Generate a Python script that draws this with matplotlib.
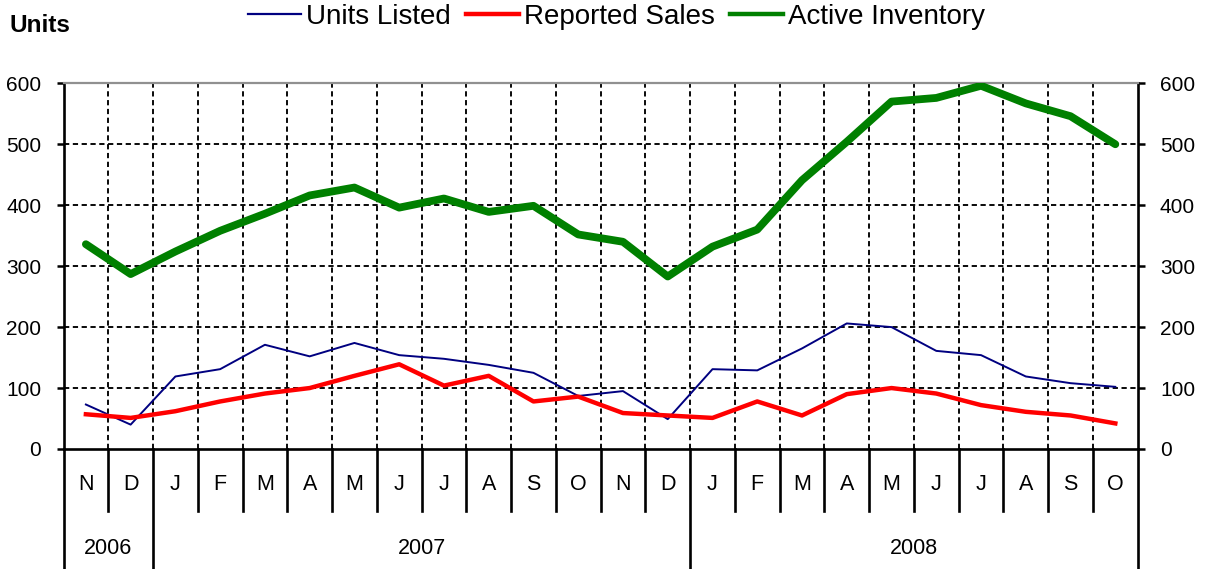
import matplotlib
matplotlib.use("Agg")
import matplotlib.pyplot as plt
from matplotlib.lines import Line2D
import matplotlib.transforms as mtrans
import numpy as np

plt.rcParams['font.family'] = ['Liberation Sans', 'DejaVu Sans']

months = ["N", "D", "J", "F", "M", "A", "M", "J", "J", "A", "S", "O",
          "N", "D", "J", "F", "M", "A", "M", "J", "J", "A", "S", "O"]
years = ["2006", "2007", "2008"]
year_spans = [(0, 2), (2, 14), (14, 24)]

units_listed = [73, 40, 119, 131, 171, 152, 174, 154, 148, 138, 125, 87,
                95, 49, 131, 129, 165, 206, 200, 161, 154, 119, 108, 102]
reported_sales = [57, 51, 62, 78, 91, 100, 120, 139, 104, 120, 78, 86,
                  59, 55, 51, 78, 55, 90, 100, 91, 72, 61, 55, 42]
active_inventory = [336, 287, 324, 358, 386, 416, 429, 396, 411, 389, 399, 352,
                    340, 283, 332, 360, 441, 504, 570, 576, 596, 567, 546, 500]

yticks = [0, 100, 200, 300, 400, 500, 600]

W, H = 1212, 569
fig = plt.figure(figsize=(W / 100, H / 100), dpi=100)
ax = fig.add_axes([63.5 / W, 1 - 449 / H, (1137.7 - 63.5) / W, (449 - 83.3) / H])

x = np.arange(len(months)) + 0.5
ax.set_xlim(0, len(months))
ax.set_ylim(0, 600)

# grid
dash = (0, (2.8, 1.9))
for v in yticks[1:-1]:
    ax.axhline(v, color='black', lw=1.35, linestyle=dash, zorder=1)
for b in range(1, len(months)):
    ax.axvline(b, color='black', lw=1.35, linestyle=dash, zorder=1)

ax.plot(x, units_listed, color='#000080', lw=1.4, zorder=3)
ax.plot(x, reported_sales, color='#FF0000', lw=3.2, zorder=4)
ax.plot(x, active_inventory, color='#008000', lw=5.6, zorder=5,
        solid_joinstyle='round', solid_capstyle='round')

# spines
for s in ['left', 'right', 'bottom']:
    ax.spines[s].set_color('black')
    ax.spines[s].set_linewidth(1.9)
ax.spines['top'].set_color('#909090')
ax.spines['top'].set_linewidth(1.6)

ax.set_xticks([])
ax.set_yticks(yticks)
ax.tick_params(axis='y', which='both', direction='out', length=5, width=1.8,
               labelsize=15, pad=11, left=True, right=True,
               labelleft=True, labelright=True)

# category separators and labels below axis
trans = mtrans.blended_transform_factory(ax.transData, ax.transAxes)
ax_h = 449 - 83.3
month_bottom = (449 - 511) / ax_h
fig_bottom = (449 - 569) / ax_h
year_bounds = sorted(set([b for sp in year_spans for b in sp]))
for b in range(0, len(months) + 1):
    y0 = fig_bottom if b in year_bounds else month_bottom
    ax.add_line(Line2D([b, b], [0, y0], transform=trans, color='black',
                       lw=1.9, clip_on=False))
for xi, m in zip(x, months):
    ax.text(xi, (449 - 484) / ax_h, m, transform=trans, ha='center',
            va='center', fontsize=15.5)
for (a, b), yr in zip(year_spans, years):
    ax.text((a + b) / 2, (449 - 548) / ax_h, yr, transform=trans,
            ha='center', va='center', fontsize=15.5)

fig.text(10 / W, 1 - 26 / H, "Units", fontsize=17.5, fontweight='bold',
         ha='left', va='center')

handles = [Line2D([], [], color='#000080', lw=1.6),
           Line2D([], [], color='#FF0000', lw=3.2),
           Line2D([], [], color='#008000', lw=3.2)]
fig.legend(handles, ["Units Listed", "Reported Sales", "Active Inventory"],
           loc='center', bbox_to_anchor=(616.5 / W, 1 - 17 / H), ncol=3,
           frameon=False, fontsize=20, handlelength=1.9, handletextpad=0.18,
           columnspacing=0.55, borderpad=0, borderaxespad=0)

fig.savefig("out.png", dpi=100)
